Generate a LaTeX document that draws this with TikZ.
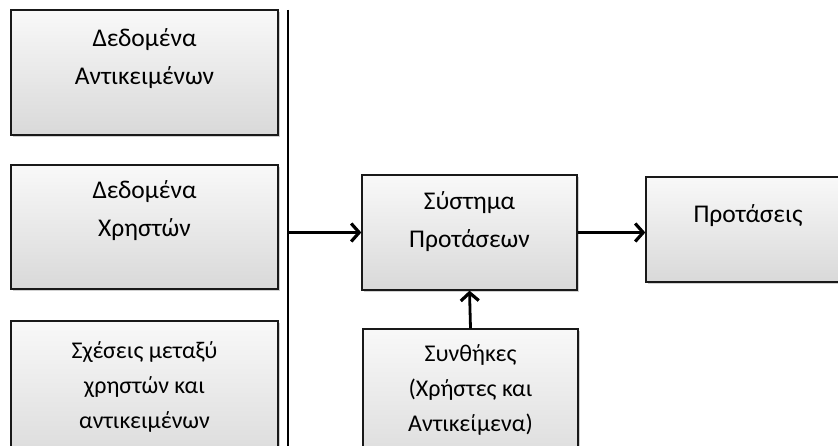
\documentclass[tikz,border=0pt]{standalone}
\usepackage{fontspec}
\setmainfont{Carlito}
\usetikzlibrary{arrows.meta,shadows}
\tikzset{
  box/.style={draw=black!90, line width=1.3pt, top color=gray!5, bottom color=gray!30,
    drop shadow={shadow xshift=1.5pt, shadow yshift=-2.5pt, opacity=0.18, fill=black}},
  bigtxt/.style={font=\fontsize{25.5}{38}\selectfont, align=center, anchor=base, inner sep=0pt},
  smalltxt/.style={font=\fontsize{24}{35}\selectfont, align=center, anchor=base, inner sep=0pt},
  conn/.style={line width=2.8pt, -{Straight Barb[length=8pt,width=18pt,line width=3.2pt]}}
}
\begin{document}
\begin{tikzpicture}[x=1pt,y=-1pt]
\useasboundingbox (0,0) rectangle (838,446);
\fill[white] (0,0) rectangle (838,446);
\clip (0,0) rectangle (838,446);
% left column
\node[box, minimum width=267pt, minimum height=125pt] (b1) at (144.5,72.5) {};
\node[box, minimum width=267pt, minimum height=124pt] (b2) at (144.5,227) {};
\node[box, minimum width=267pt, minimum height=150pt] (b3) at (144.5,396) {};
\node[bigtxt] (t1) at (144.5,85) {Δεδομένα\\Αντικειμένων};
\node[bigtxt] (t2) at (144.5,237) {Δεδομένα\\Χρηστών};
\node[smalltxt] (t3) at (144.5,428) {Σχέσεις μεταξύ\\χρηστών και\\αντικειμένων};
% separator line
\coordinate (bartop) at (288,10);
\coordinate (barbot) at (288,450);
\draw[line width=2.4pt] (bartop) -- (barbot);
% centre
\node[box, minimum width=215pt, minimum height=115pt] (sys) at (469.5,232.5) {};
\node[bigtxt] (tsys) at (469.5,248) {Σύστημα\\Προτάσεων};
\node[box, minimum width=204pt, minimum height=105pt] (out) at (748,229.5) {};
\node[bigtxt] (tout) at (748,223) {Προτάσεις};
\node[box, minimum width=215pt, minimum height=150pt] (cond) at (470.5,404) {};
\node[smalltxt] (tcond) at (470.5,431) {Συνθήκες\\(Χρήστες και\\Αντικείμενα)};
% connectors
\draw[conn] (sys.west -| bartop) -- (sys.west);
\draw[conn] (sys.east) -- (sys.east -| out.west);
\draw[conn] (cond.north) -- (sys.south);
\end{tikzpicture}
\end{document}
